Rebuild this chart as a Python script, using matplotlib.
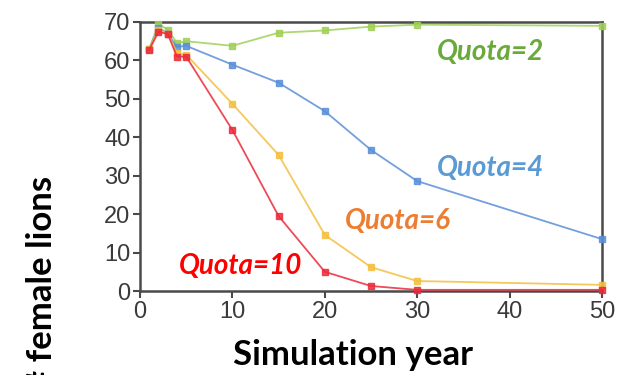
import matplotlib
matplotlib.use("Agg")
import matplotlib.pyplot as plt

years = [1, 2, 3, 4, 5, 10, 15, 20, 25, 30, 50]
quota2 = [63, 69.5, 68, 64.5, 65, 63.8, 67.2, 67.8, 68.8, 69.3, 69]
quota4 = [63, 68.5, 67, 63.5, 63.8, 58.9, 54.2, 46.8, 36.7, 28.6, 13.5]
quota6 = [63, 68, 67, 62, 61.5, 48.7, 35.4, 14.6, 6.2, 2.6, 1.6]
quota10 = [62.8, 67.4, 66.9, 61, 61, 41.9, 19.5, 5, 1.3, 0.3, 0.3]

x_ticks = [0, 10, 20, 30, 40, 50]
y_ticks = [0, 10, 20, 30, 40, 50, 60, 70]

series = [
    ("Quota=2", quota2, "#9fd057", "#6aaa3a", (490, 52)),
    ("Quota=4", quota4, "#5a8fd8", "#5b9bd5", (490, 168)),
    ("Quota=6", quota6, "#f4bf3f", "#ed7d31", (398, 221)),
    ("Quota=10", quota10, "#ec2a3a", "#ff0000", (241, 266)),
]

fig = plt.figure(figsize=(6.17, 3.75), dpi=100)
ax = fig.add_axes([140 / 617, 84 / 375, 462 / 617, 269 / 375])

for name, vals, line_c, text_c, (px, py) in series:
    ax.plot(years, vals, color=line_c, lw=1.3, alpha=0.85,
            marker="s", ms=4.5, mfc=line_c, mec=line_c, clip_on=False, zorder=3)
    fig.text(px / 617, 1 - py / 375, name, color=text_c, fontsize=20,
             fontweight="bold", fontstyle="italic", family="Lato",
             ha="center", va="center")

ax.set_xlim(0, 50)
ax.set_ylim(0, 70)
ax.set_xticks(x_ticks)
ax.set_yticks(y_ticks)
for s in ax.spines.values():
    s.set_color("#4a4a4a")
    s.set_linewidth(1.8)
ax.tick_params(direction="out", length=5, width=1.5, colors="#4a4a4a",
               labelcolor="#3a3a3a", labelsize=17, pad=2)
for lab in ax.get_xticklabels() + ax.get_yticklabels():
    lab.set_family("Liberation Sans")

fig.text(353 / 617, 1 - 355 / 375, "Simulation year", fontsize=25,
         fontweight="bold", family="Lato", ha="center", va="center")
fig.text(42 / 617, 1 - 176 / 375, "# female lions", fontsize=25,
         fontweight="bold", family="Lato", rotation=90,
         ha="center", va="top")

fig.savefig("out.png", dpi=100)
